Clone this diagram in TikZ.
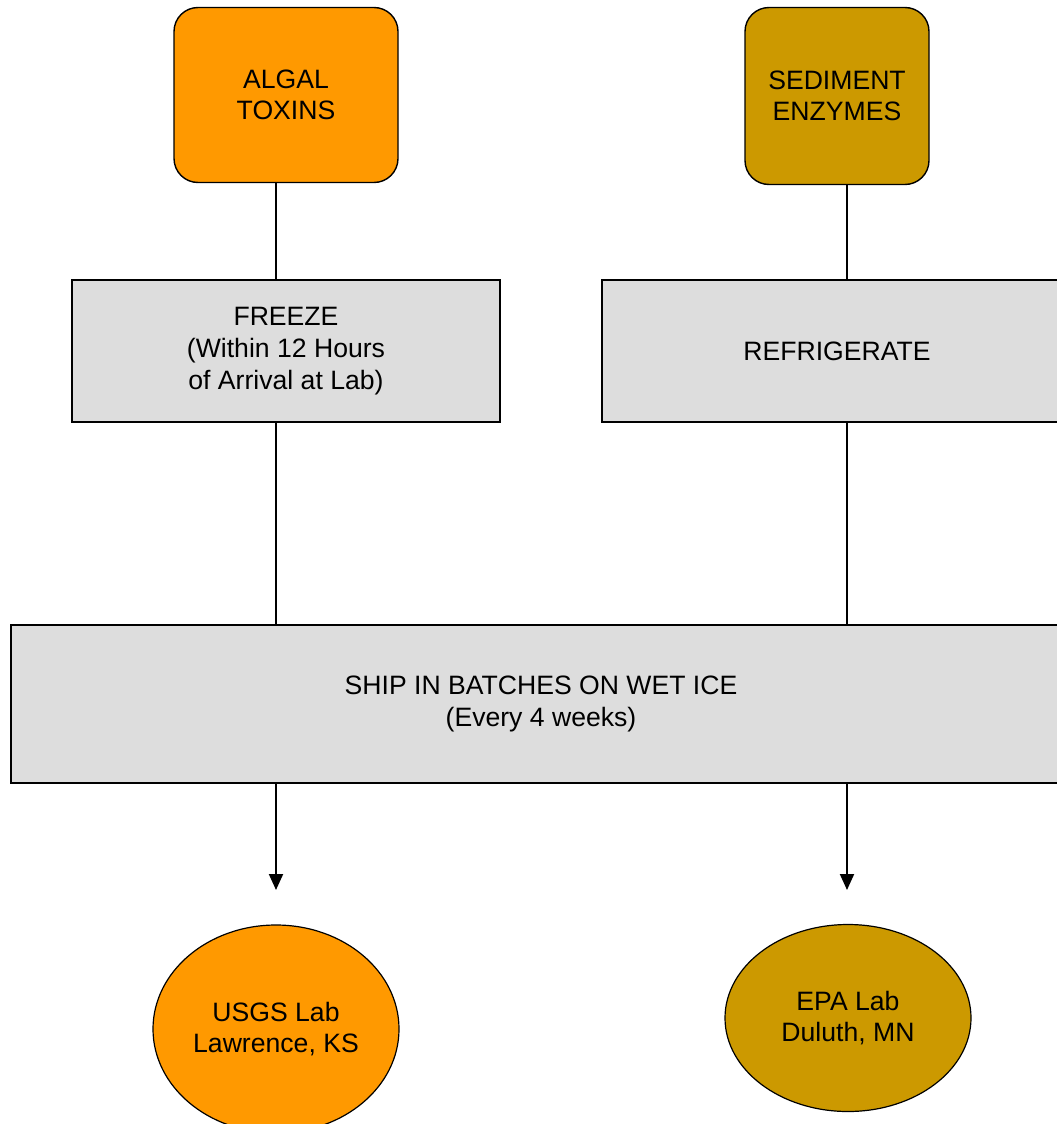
\documentclass[tikz,border=0pt]{standalone}
\usepackage{fontspec}
\setmainfont{Liberation Sans}
\usetikzlibrary{shapes.geometric,arrows.meta}

\definecolor{algal}{RGB}{255,153,0}
\definecolor{sediment}{RGB}{204,153,0}
\definecolor{boxgray}{RGB}{221,221,221}

\begin{document}
\begin{tikzpicture}[x=0.5pt, y=-0.5pt,
    every node/.style={font=\fontsize{13.3}{15.8}\selectfont, align=center},
    sample/.style={rectangle, rounded corners=12pt, draw, line width=0.7pt, inner sep=0pt},
    handling/.style={rectangle, draw, line width=1pt, fill=boxgray, inner sep=0pt},
    lab/.style={ellipse, draw, line width=0.6pt, inner sep=0pt},
    link/.style={line width=1pt}]

        % --- Frame of the page ---
        \useasboundingbox (0,0) rectangle (1056,1124);

        % Columns of the connectors
        \coordinate (colL) at (276,0);
        \coordinate (colR) at (847,0);

        % --- Sample types ---
        \node[sample, fill=algal, minimum width=112pt, minimum height=87.5pt] (algal) at (286,95) {ALGAL\\ TOXINS};
        \node[sample, fill=sediment, minimum width=92pt, minimum height=88.5pt] (sediment) at (837,96) {SEDIMENT\\ENZYMES};

        % --- Storage ---
        \node[handling, minimum width=214pt, minimum height=71pt] (freeze) at (286,351) {FREEZE\\(Within 12 Hours\\ of Arrival at Lab)};
        \node[handling, minimum width=235pt, minimum height=71pt] (refrigerate) at (837,351) {REFRIGERATE};

        % --- Shipping ---
        \node[handling, minimum width=530pt, minimum height=79pt] (ship) at (541,704) {SHIP IN BATCHES ON WET ICE\\(Every 4 weeks)};

        % --- Labs ---
        \node[lab, fill=algal, minimum width=123pt, minimum height=104pt] (usgs) at (276,1029) {USGS Lab\\Lawrence, KS};
        \node[lab, fill=sediment, minimum width=123pt, minimum height=93.5pt] (epa) at (848,1018) {EPA Lab\\Duluth, MN};

        % Arrow ends above the labs
        \coordinate (usgsTip) at (276,890);
        \coordinate (epaTip) at (847,890);

        % Draw connectors
        \draw[link] (algal.south -| colL) -- (freeze.north -| colL);
        \draw[link] (freeze.south -| colL) -- (ship.north -| colL);
        \draw[link, -{Triangle[width=7pt,length=8pt]}] (ship.south -| colL) -- (usgsTip);
        \draw[link] (sediment.south -| colR) -- (refrigerate.north -| colR);
        \draw[link] (refrigerate.south -| colR) -- (ship.north -| colR);
        \draw[link, -{Triangle[width=7pt,length=8pt]}] (ship.south -| colR) -- (epaTip);

    \end{tikzpicture}
\end{document}
